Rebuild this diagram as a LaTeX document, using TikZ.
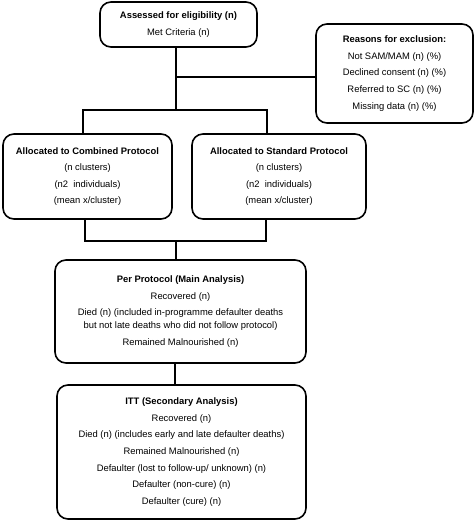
\documentclass[tikz,border=0pt]{standalone}
\usepackage{fontspec}
\setmainfont{Liberation Sans}
\begin{document}
\begin{tikzpicture}[x=1pt,y=-1pt,
  box/.style={draw,line width=1.6pt,rounded corners=11pt,align=center,inner sep=0pt,
    font=\fontsize{9.4}{16.6}\selectfont},
  conn/.style={line width=1.5pt}]
\useasboundingbox (0,0) rectangle (475,522);
\node[box,minimum width=157pt,minimum height=45pt] (top) at (178.5,24.5)
  {\textbf{Assessed for eligibility (n)}\\Met Criteria (n)};
\node[box,minimum width=157pt,minimum height=99pt] (excl) at (394.5,73.5)
  {\textbf{Reasons for exclusion:}\\Not SAM/MAM (n) (\%)\\Declined consent (n) (\%)\\Referred to SC (n) (\%)\\Missing data (n) (\%)};
\node[box,minimum width=169pt,minimum height=85pt] (comb) at (87.5,176.5)
  {\textbf{Allocated to Combined Protocol}\\(n clusters)\\(n2\ \ individuals)\\(mean x/cluster)};
\node[box,minimum width=174pt,minimum height=85pt] (std) at (279,176.5)
  {\textbf{Allocated to Standard Protocol}\\(n clusters)\\(n2\ \ individuals)\\(mean x/cluster)};
\node[box,minimum width=251pt,minimum height=103pt] (pp) at (180.5,311.5)
  {\textbf{Per Protocol (Main Analysis)}\\Recovered (n)\\Died (n) (included in-programme defaulter deaths\\[-3.6pt]but not late deaths who did not follow protocol)\\Remained Malnourished (n)};
\node[box,minimum width=249pt,minimum height=134pt] (itt) at (181.5,452)
  {\textbf{ITT (Secondary Analysis)}\\Recovered (n)\\Died (n) (includes early and late defaulter deaths)\\Remained Malnourished (n)\\Defaulter (lost to follow-up/ unknown) (n)\\Defaulter (non-cure) (n)\\Defaulter (cure) (n)};
\coordinate (jExcl) at (176,77);
\coordinate (jSplit) at (176,110);
\coordinate (bL) at (83,110);
\coordinate (bR) at (267,110);
\coordinate (cL) at (85,241);
\coordinate (cR) at (266,241);
\coordinate (jMid) at (176,241);
\coordinate (jPP) at (175,370);
\draw[conn] (top.south -| jSplit) -- (jSplit);
\draw[conn] (jExcl) -- (excl.west |- jExcl);
\draw[conn] (comb.north -| bL) -- (bL) -- (bR) -- (std.north -| bR);
\draw[conn] (comb.south -| cL) -- (cL) -- (cR) -- (std.south -| cR);
\draw[conn] (jMid) -- (pp.north -| jMid);
\draw[conn] (pp.south -| jPP) -- (itt.north -| jPP);
\end{tikzpicture}
\end{document}
